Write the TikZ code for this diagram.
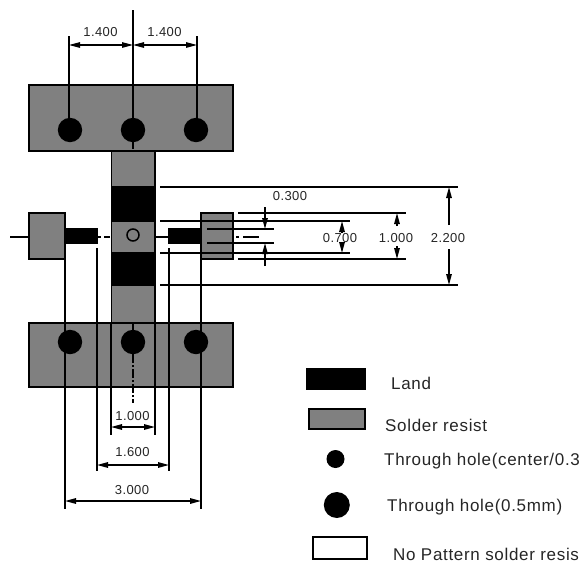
\documentclass[tikz,border=0pt]{standalone}
\usepackage{fontspec}
\setmainfont{Liberation Sans}
\newfontfamily\dimfont[LetterSpace=3]{Liberation Sans}
\newfontfamily\legfont[LetterSpace=4]{Liberation Sans}
\usetikzlibrary{arrows.meta}
\definecolor{resist}{RGB}{128,128,128}
\tikzset{
  outline/.style={draw=black,line width=1.5pt},
  resistbox/.style={outline,fill=resist},
  landbox/.style={fill=black},
  hole/.style={fill=black},
  ln/.style={draw=black,line width=1.5pt},
  dimline/.style={ln,{Stealth[length=11pt,width=5.5pt,inset=0pt]}-{Stealth[length=11pt,width=5.5pt,inset=0pt]}},
  dimtip/.style={ln,-{Stealth[length=11pt,width=5.5pt,inset=0pt]}},
  dimtext/.style={inner sep=0pt,text=black!85,font=\dimfont\fontsize{13}{13}\selectfont},
  legendtext/.style={inner sep=0pt,anchor=west,text=black!85,font=\legfont\fontsize{17}{17}\selectfont},
}
\begin{document}
\begin{tikzpicture}[x=1pt,y=-1pt]
\useasboundingbox (0,0) rectangle (579,563);
\clip (0,0) rectangle (579,563);
\fill[white] (0,0) rectangle (579,563);
% centre strip
\draw[resistbox] (111.5,151) rectangle (155,323);
\fill[landbox] (110.5,186) rectangle (155.5,222);
\fill[landbox] (110.5,252) rectangle (155.5,286);
% pads
\draw[resistbox] (29,85) rectangle (233,151);
\draw[resistbox] (29,323) rectangle (233,387);
\draw[resistbox] (29,213) rectangle (65,259);
\draw[resistbox] (201,213) rectangle (233,259);
\fill[landbox] (65,228) rectangle (98,244);
\fill[landbox] (168,228) rectangle (201,244);
% holes
\foreach \n/\x/\y in {a/70/130,b/133/130,c/196/130,d/70/342,e/133/342,f/196/342}
  \fill[hole] (\x,\y) circle (12.2);
\draw[line width=1.5pt] (133,235) circle (6);
% centre lines
\draw[ln] (10,237) -- (28,237);
\draw[ln] (98,237) -- (101,237) (104,237) -- (110,237) (155,237) -- (168,237);
\draw[ln] (236,237) -- (239,237) (243,237) -- (259,237);
\draw[ln] (133,10) -- (133,149);
\draw[ln] (133,323) -- (133,352);
\draw[ln,dash pattern=on 9pt off 2pt on 2pt off 2pt] (133,354) -- (133,403);
% top extension lines and dims
\coordinate (tl) at (69,36);
\coordinate (tr) at (197,36);
\draw[ln] (tl) -- (69,130);
\draw[ln] (tr) -- (197,130);
\coordinate (da) at (69,45); \coordinate (db) at (133,45); \coordinate (dc) at (197,45);
\draw[dimline,line width=1.2pt] (da) -- (db);
\draw[dimline,line width=1.2pt] (db) -- (dc);
\node[dimtext] (t1) at (100.5,32) {1.400};
\node[dimtext] (t2) at (164.5,32) {1.400};
% bottom extension lines and dims
\draw[ln] (65,259) -- (65,509);
\draw[ln] (201,259) -- (201,509);
\draw[ln] (97,248) -- (97,471);
\draw[ln] (169,248) -- (169,471);
\draw[ln] (111,323) -- (111,435);
\draw[ln] (155,323) -- (155,435);
\draw[dimline] (111,427) -- (155,427);
\draw[dimline] (97,465) -- (169,465);
\draw[dimline] (65,501) -- (201,501);
\node[dimtext] (t3) at (132.5,416) {1.000};
\node[dimtext] (t4) at (132.5,452) {1.600};
\node[dimtext] (t5) at (132,490) {3.000};
% right extension lines
\draw[ln] (160,187) -- (458,187);
\draw[ln] (160,285) -- (458,285);
\draw[ln] (160,221) -- (350,221);
\draw[ln] (160,253) -- (350,253);
\draw[ln] (238,213) -- (406,213);
\draw[ln] (238,259) -- (406,259);
\draw[ln] (207,229) -- (274,229);
\draw[ln] (207,243) -- (274,243);
% right dims
\draw[dimtip] (265,207) -- (265,229);
\draw[dimtip] (265,266) -- (265,243);
\draw[dimtip] (342,233) -- (342,221);
\draw[dimtip] (342,242) -- (342,253);
\draw[dimtip] (397,226) -- (397,213);
\draw[dimtip] (397,246) -- (397,259);
\draw[dimtip] (449,225) -- (449,187);
\draw[dimtip] (449,249) -- (449,285);
\node[dimtext] (t6) at (290,196) {0.300};
\node[dimtext] (t7) at (340,238) {0.700};
\node[dimtext] (t8) at (396,238) {1.000};
\node[dimtext] (t9) at (448,238) {2.200};
% legend
\fill[landbox] (306,368) rectangle (366,390);
\draw[resistbox] (309,409) rectangle (365,429);
\fill[hole] (335.5,459) circle (9);
\fill[hole] (336.8,505) circle (13);
\draw[outline,fill=white] (313,537) rectangle (367,559);
\node[legendtext] (l1) at (391,383) {Land};
\node[legendtext] (l2) at (385,425) {Solder resist};
\node[legendtext] (l3) at (384,461) {Through hole(center/0.3};
\node[legendtext] (l4) at (387,507) {Through hole(0.5mm)};
\node[legendtext] (l5) at (393,554) {No Pattern solder resis};
\end{tikzpicture}
\end{document}
